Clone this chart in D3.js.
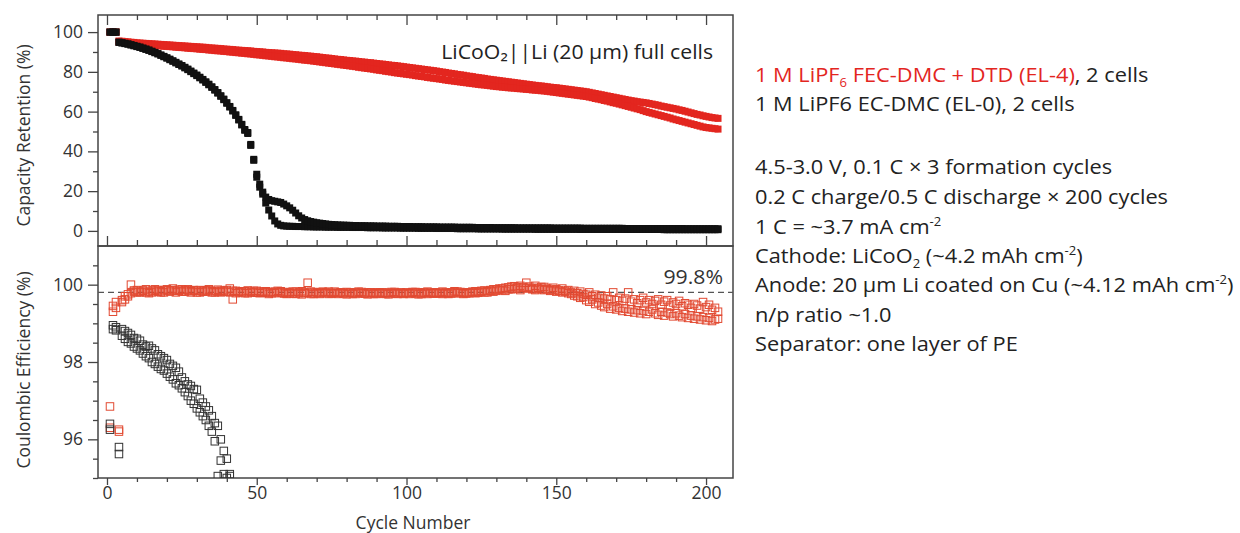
<!DOCTYPE html>
<html>
<head>
<meta charset="utf-8">
<script src="https://cdn.jsdelivr.net/npm/d3@7"></script>
<style>
  body { margin: 0; background: #fff; }
  text { font-family: "Open Sans", sans-serif; }
</style>
</head>
<body>
<script>
// cycle numbers (x)
var cycles = d3.range(1, 205);

// capacity retention (%), two cells per electrolyte
var capRedA = [100,100,100,95.5,95.4,95.2,95.1,94.9,94.8,94.6,
  94.5,94.4,94.3,94.2,94.1,94.0,93.9,93.8,93.7,93.6,
  93.5,93.4,93.3,93.2,93.1,93.0,92.9,92.8,92.7,92.6,
  92.5,92.4,92.3,92.1,92.0,91.9,91.8,91.7,91.5,91.4,
  91.3,91.2,91.0,90.9,90.8,90.7,90.6,90.5,90.3,90.2,
  90.1,90.0,89.8,89.7,89.6,89.5,89.4,89.3,89.1,89.0,
  88.9,88.7,88.6,88.4,88.3,88.2,88.0,87.9,87.7,87.6,
  87.4,87.2,87.0,86.9,86.7,86.5,86.3,86.2,86.0,85.8,
  85.7,85.5,85.4,85.2,85.0,84.9,84.7,84.6,84.4,84.2,
  84.0,83.9,83.7,83.5,83.3,83.2,83.0,82.8,82.6,82.4,
  82.2,82.0,81.8,81.6,81.4,81.2,81.0,80.8,80.6,80.4,
  80.1,79.9,79.7,79.4,79.2,79.0,78.7,78.5,78.3,78.0,
  77.8,77.6,77.3,77.1,76.9,76.7,76.4,76.2,76.0,75.8,
  75.6,75.4,75.2,75.0,74.8,74.6,74.4,74.2,74.0,73.8,
  73.6,73.4,73.2,73.0,72.9,72.7,72.5,72.3,72.1,72.0,
  71.8,71.6,71.4,71.2,71.0,70.8,70.6,70.4,70.2,70.0,
  69.7,69.4,69.1,68.8,68.5,68.2,67.9,67.6,67.3,67.0,
  66.7,66.4,66.1,65.8,65.5,65.3,65.0,64.8,64.6,64.4,
  64.1,63.8,63.5,63.2,62.8,62.5,62.2,61.9,61.6,61.3,
  60.9,60.6,60.2,59.8,59.4,59.0,58.6,58.3,57.9,57.6,
  57.3,57.0,56.8,56.6];
var capRedB = [100,100,100,95.0,94.9,94.7,94.6,94.4,94.2,94.0,
  93.9,93.8,93.7,93.6,93.4,93.3,93.2,93.0,92.9,92.8,
  92.7,92.6,92.4,92.3,92.2,92.1,91.9,91.8,91.7,91.6,
  91.4,91.3,91.2,91.0,90.9,90.7,90.6,90.5,90.3,90.2,
  90.0,89.9,89.7,89.6,89.4,89.3,89.1,89.0,88.8,88.6,
  88.5,88.3,88.1,88.0,87.8,87.6,87.5,87.3,87.1,87.0,
  86.8,86.6,86.5,86.3,86.1,85.9,85.8,85.6,85.4,85.2,
  85.0,84.8,84.6,84.4,84.2,84.0,83.8,83.6,83.4,83.2,
  83.0,82.8,82.6,82.3,82.1,81.9,81.7,81.5,81.3,81.0,
  80.8,80.6,80.3,80.1,79.9,79.6,79.4,79.2,79.0,78.8,
  78.6,78.4,78.1,77.9,77.7,77.5,77.2,77.0,76.8,76.6,
  76.4,76.2,75.9,75.7,75.5,75.3,75.1,74.9,74.7,74.5,
  74.3,74.1,73.9,73.7,73.5,73.4,73.2,73.0,72.8,72.6,
  72.5,72.3,72.2,72.0,71.9,71.8,71.6,71.5,71.4,71.2,
  71.1,70.9,70.8,70.7,70.5,70.4,70.2,70.0,69.8,69.6,
  69.4,69.2,69.0,68.8,68.6,68.4,68.2,68.0,67.8,67.6,
  67.3,67.0,66.6,66.3,66.0,65.6,65.3,64.9,64.5,64.2,
  63.8,63.4,63.0,62.6,62.2,61.8,61.4,61.0,60.5,60.0,
  59.6,59.2,58.8,58.4,58.0,57.6,57.2,56.8,56.3,55.9,
  55.5,55.1,54.7,54.3,53.9,53.5,53.1,52.7,52.3,52.0,
  51.8,51.6,51.4,51.2];
var capBlackA = [100,100,100,95.0,94.7,94.4,94.1,93.7,93.3,92.9,
  92.5,92.0,91.5,91.0,90.4,89.8,89.2,88.5,87.8,87.1,
  86.4,85.6,84.8,84.0,83.2,82.3,81.4,80.4,79.4,78.4,
  77.3,76.2,75.0,73.8,72.5,71.1,69.6,68.0,66.3,64.5,
  62.6,60.6,58.4,56.1,53.6,51.0,49.5,43.5,36.0,28.5,
  22.0,18.5,14.0,10.5,7.5,5.0,3.5,2.8,2.5,2.4,
  2.3,2.3,2.2,2.2,2.2,2.1,2.1,2.1,2.0,2.0,
  2.0,2.0,1.9,1.9,1.9,1.9,1.8,1.8,1.8,1.8,
  1.8,1.7,1.7,1.7,1.7,1.7,1.6,1.6,1.6,1.6,
  1.6,1.5,1.5,1.5,1.5,1.5,1.5,1.4,1.4,1.4,
  1.4,1.4,1.4,1.3,1.3,1.3,1.3,1.3,1.3,1.2,
  1.2,1.2,1.2,1.2,1.2,1.2,1.1,1.1,1.1,1.1,
  1.1,1.1,1.1,1.0,1.0,1.0,1.0,1.0,1.0,1.0,
  1.0,0.9,0.9,0.9,0.9,0.9,0.9,0.9,0.9,0.9,
  0.9,0.9,0.8,0.8,0.8,0.8,0.8,0.8,0.8,0.8,
  0.8,0.8,0.8,0.8,0.8,0.8,0.8,0.7,0.7,0.7,
  0.7,0.7,0.7,0.7,0.7,0.7,0.7,0.7,0.7,0.7,
  0.7,0.7,0.7,0.7,0.7,0.7,0.7,0.7,0.7,0.7,
  0.7,0.7,0.7,0.7,0.7,0.6,0.6,0.6,0.6,0.6,
  0.6,0.6,0.6,0.6,0.6,0.6,0.6,0.6,0.6,0.6,
  0.6,0.6,0.6,0.6];
var capBlackB = [100,100,100,94.8,94.5,94.2,93.9,93.5,93.1,92.7,
  92.3,91.8,91.3,90.8,90.2,89.6,89.0,88.3,87.6,86.9,
  86.1,85.3,84.5,83.7,82.9,82.0,81.1,80.1,79.1,78.1,
  77.0,75.9,74.7,73.5,72.2,70.8,69.3,67.7,66.0,64.2,
  62.3,60.3,58.1,55.8,53.3,50.6,49.0,43.0,35.5,27.0,
  23.5,19.5,17.0,15.8,15.2,14.9,14.6,14.3,13.5,12.6,
  11.6,10.4,9.0,7.6,6.5,5.7,5.1,4.7,4.4,4.1,
  3.9,3.7,3.5,3.3,3.2,3.1,3.0,2.9,2.9,2.8,
  2.8,2.7,2.7,2.6,2.6,2.6,2.5,2.5,2.5,2.4,
  2.4,2.4,2.4,2.3,2.3,2.3,2.3,2.2,2.2,2.2,
  2.2,2.1,2.1,2.1,2.1,2.0,2.0,2.0,2.0,2.0,
  1.9,1.9,1.9,1.9,1.9,1.9,1.8,1.8,1.8,1.8,
  1.8,1.8,1.7,1.7,1.7,1.7,1.7,1.7,1.6,1.6,
  1.6,1.6,1.6,1.6,1.6,1.6,1.5,1.5,1.5,1.5,
  1.5,1.5,1.5,1.5,1.5,1.5,1.5,1.5,1.4,1.4,
  1.4,1.4,1.4,1.4,1.4,1.4,1.4,1.4,1.3,1.3,
  1.3,1.3,1.3,1.3,1.3,1.3,1.3,1.3,1.3,1.3,
  1.3,1.3,1.2,1.2,1.2,1.2,1.2,1.2,1.2,1.2,
  1.2,1.2,1.2,1.2,1.2,1.2,1.2,1.2,1.2,1.2,
  1.2,1.2,1.1,1.1,1.1,1.1,1.1,1.1,1.1,1.1,
  1.1,1.1,1.1,1.1];

// coulombic efficiency (%)
var ceRedA = [96.85,99.45,99.55,96.25,99.6,99.7,99.75,100.0,99.85,99.8,
  99.82,99.85,99.8,99.78,99.85,99.88,99.82,99.8,99.86,99.88,
  99.85,99.9,99.84,99.87,99.82,99.86,99.88,99.83,99.85,99.8,
  99.86,99.82,99.85,99.88,99.83,99.8,99.87,99.84,99.82,99.86,
  99.9,99.62,99.84,99.8,99.83,99.78,99.85,99.82,99.8,99.84,
  99.82,99.79,99.83,99.8,99.78,99.82,99.84,99.8,99.77,99.81,
  99.78,99.82,99.76,99.8,99.83,99.78,100.05,99.82,99.76,99.8,
  99.78,99.82,99.8,99.76,99.79,99.82,99.78,99.8,99.77,99.81,
  99.79,99.76,99.8,99.82,99.78,99.77,99.8,99.79,99.76,99.8,
  99.78,99.8,99.76,99.79,99.81,99.77,99.78,99.8,99.76,99.79,
  99.78,99.81,99.77,99.8,99.76,99.79,99.82,99.78,99.8,99.77,
  99.79,99.82,99.78,99.76,99.8,99.83,99.78,99.81,99.79,99.77,
  99.8,99.82,99.78,99.81,99.84,99.8,99.83,99.86,99.82,99.88,
  99.9,99.86,99.92,99.88,99.95,99.9,99.93,99.97,99.92,100.05,
  99.95,99.9,99.97,99.92,99.88,99.94,99.9,99.86,99.92,99.88,
  99.85,99.9,99.82,99.86,99.8,99.84,99.78,99.82,99.76,99.74,
  99.8,99.7,99.74,99.66,99.72,99.64,99.7,99.62,99.8,99.6,
  99.66,99.58,99.64,99.8,99.56,99.62,99.52,99.6,99.66,99.54,
  99.6,99.5,99.58,99.62,99.48,99.56,99.6,99.46,99.54,99.5,
  99.58,99.44,99.52,99.48,99.4,99.5,99.46,99.38,99.55,99.42,
  99.48,99.35,99.4,99.3];
var ceRedB = [96.3,99.3,99.4,96.2,99.55,99.62,99.7,99.78,99.82,99.86,
  99.8,99.84,99.88,99.82,99.8,99.84,99.86,99.83,99.8,99.85,
  99.82,99.86,99.8,99.84,99.88,99.82,99.85,99.8,99.86,99.84,
  99.8,99.85,99.82,99.86,99.8,99.84,99.82,99.8,99.85,99.82,
  99.8,99.84,99.78,99.82,99.8,99.83,99.78,99.8,99.84,99.79,
  99.78,99.82,99.8,99.76,99.81,99.78,99.8,99.83,99.79,99.76,
  99.8,99.77,99.82,99.78,99.75,99.8,99.79,99.76,99.81,99.78,
  99.76,99.8,99.78,99.82,99.77,99.79,99.76,99.8,99.78,99.75,
  99.8,99.78,99.76,99.79,99.81,99.77,99.75,99.8,99.78,99.76,
  99.8,99.77,99.79,99.75,99.78,99.81,99.76,99.79,99.77,99.8,
  99.76,99.79,99.81,99.75,99.78,99.8,99.76,99.79,99.77,99.8,
  99.78,99.76,99.8,99.79,99.77,99.8,99.82,99.78,99.76,99.8,
  99.78,99.8,99.83,99.79,99.82,99.85,99.8,99.84,99.88,99.84,
  99.86,99.9,99.84,99.93,99.88,99.96,99.9,99.86,99.94,99.9,
  99.92,99.88,99.86,99.9,99.94,99.86,99.88,99.84,99.86,99.82,
  99.84,99.8,99.84,99.78,99.76,99.72,99.7,99.66,99.68,99.6,
  99.56,99.62,99.5,99.54,99.46,99.42,99.5,99.38,99.44,99.36,
  99.4,99.32,99.38,99.3,99.36,99.28,99.34,99.26,99.32,99.24,
  99.3,99.36,99.26,99.22,99.3,99.2,99.28,99.24,99.18,99.26,
  99.2,99.16,99.24,99.14,99.2,99.12,99.18,99.1,99.16,99.08,
  99.14,99.06,99.1,99.12];
var ceBlackA = [96.4,98.95,98.9,95.8,98.85,98.8,98.75,98.7,98.62,98.6,
  98.55,98.45,98.4,98.42,98.35,98.3,98.2,98.15,98.1,98.05,
  97.95,97.9,97.85,97.75,97.6,97.5,97.42,97.38,97.3,97.28,
  97.05,96.95,96.85,96.75,96.6,96.42,96.35,96.0,95.7,95.5,95.1];
var ceBlackB = [96.25,98.85,98.82,95.62,98.68,98.6,98.52,98.48,98.4,98.35,
  98.3,98.22,98.15,98.1,98.0,97.95,97.88,97.82,97.78,97.7,
  97.62,97.55,97.45,97.4,97.32,97.22,97.12,97.0,96.92,96.8,
  96.7,96.6,96.5,96.35,96.2,95.95,95.05,95.45,95.1,95.0,95.05];

var ceReference = 99.8;

var xMajor = [0, 50, 100, 150, 200];
var xMinor = [10,20,30,40,60,70,80,90,110,120,130,140,160,170,180,190];
var capMajor = [0, 20, 40, 60, 80, 100];
var capMinor = [10, 30, 50, 70, 90];
var ceMajor = [96, 98, 100];
var ceMinor = [95, 95.5, 96.5, 97, 97.5, 98.5, 99, 99.5, 100.5];

var red = "#e3261f";
var redOpen = "#e24a32";
var ink = "#222";

var svg = d3.select("body").append("svg")
    .attr("width", 1240)
    .attr("height", 533);

var left = 98, right = 733, top1 = 15, mid = 246, bottom = 478;
var stretch = 1.09; // the source lettering is wider than Open Sans

var x = d3.scaleLinear().domain([-3, 209]).range([left, right]);
var yCap = d3.scaleLinear().domain([-7.6, 108.6]).range([mid, top1]);
var yCE = d3.scaleLinear().domain([95, 101]).range([bottom, mid]);

var defs = svg.append("defs");
defs.append("clipPath").attr("id", "clipTop").append("rect")
    .attr("x", left).attr("y", top1).attr("width", right - left).attr("height", mid - top1);
defs.append("clipPath").attr("id", "clipBot").append("rect")
    .attr("x", left).attr("y", mid).attr("width", right - left).attr("height", bottom - mid);

function addAxis(gen, tx, ty) {
  var g = svg.append("g").attr("transform", "translate(" + tx + "," + ty + ")").call(gen);
  g.select(".domain").remove();
  g.selectAll("line").attr("stroke", "#444").attr("stroke-width", 1.3);
  g.selectAll("text").attr("font-size", 17.5).attr("fill", "#333")
    .attr("font-family", "'Open Sans', sans-serif");
  return g;
}

var fmt = d3.format("d");

// top panel: capacity retention axes
addAxis(d3.axisLeft(yCap).tickValues(capMajor).tickSize(10).tickPadding(5).tickFormat(fmt), left, 0);
addAxis(d3.axisLeft(yCap).tickValues(capMinor).tickSize(5).tickFormat(""), left, 0);
addAxis(d3.axisBottom(x).tickValues(xMajor).tickSize(10).tickFormat(""), 0, top1);
addAxis(d3.axisBottom(x).tickValues(xMinor).tickSize(5).tickFormat(""), 0, top1);
addAxis(d3.axisTop(x).tickValues(xMajor).tickSize(10).tickFormat(""), 0, mid);
addAxis(d3.axisTop(x).tickValues(xMinor).tickSize(6).tickFormat(""), 0, mid);

// bottom panel: coulombic efficiency axes
addAxis(d3.axisLeft(yCE).tickValues(ceMajor).tickSize(10).tickPadding(5).tickFormat(fmt), left, 0);
addAxis(d3.axisLeft(yCE).tickValues(ceMinor).tickSize(5).tickFormat(""), left, 0);
addAxis(d3.axisBottom(x).tickValues(xMajor).tickSize(7).tickPadding(2).tickFormat(fmt), 0, bottom);
addAxis(d3.axisBottom(x).tickValues(xMinor).tickSize(4).tickFormat(""), 0, bottom);

// frames
svg.append("rect").attr("x", left).attr("y", top1).attr("width", right - left).attr("height", mid - top1)
    .attr("fill", "none").attr("stroke", "#444").attr("stroke-width", 1.5);
svg.append("rect").attr("x", left).attr("y", mid).attr("width", right - left).attr("height", bottom - mid)
    .attr("fill", "none").attr("stroke", "#444").attr("stroke-width", 1.5);

function pairs(vals) {
  return vals.map(function(v, i) { return [cycles[i], v]; });
}

// top panel markers
var gTop = svg.append("g").attr("clip-path", "url(#clipTop)");
function filledSquares(vals, color) {
  var s = 7;
  gTop.append("g").selectAll("rect").data(pairs(vals)).enter().append("rect")
      .attr("x", function(d) { return x(d[0]) - s / 2; })
      .attr("y", function(d) { return yCap(d[1]) - s / 2; })
      .attr("width", s).attr("height", s)
      .attr("fill", color);
}
filledSquares(capRedA, red);
filledSquares(capRedB, red);
filledSquares(capBlackA, "#111");
filledSquares(capBlackB, "#111");

// bottom panel markers
var gBot = svg.append("g").attr("clip-path", "url(#clipBot)");
gBot.append("line")
    .attr("x1", left).attr("x2", right)
    .attr("y1", yCE(ceReference)).attr("y2", yCE(ceReference))
    .attr("stroke", "#555").attr("stroke-width", 1.4).attr("stroke-dasharray", "6,4");
function openSquares(vals, color) {
  var s = 7.5;
  gBot.append("g").selectAll("rect").data(pairs(vals)).enter().append("rect")
      .attr("x", function(d) { return x(d[0]) - s / 2; })
      .attr("y", function(d) { return yCE(d[1]) - s / 2; })
      .attr("width", s).attr("height", s)
      .attr("fill", "none")
      .attr("stroke", color).attr("stroke-width", 1);
}
openSquares(ceRedA, redOpen);
openSquares(ceRedB, redOpen);
openSquares(ceBlackA, "#333");
openSquares(ceBlackB, "#333");

// axis titles
svg.append("text")
    .attr("transform", "translate(30," + ((top1 + mid) / 2 + 5) + ") rotate(-90)")
    .attr("text-anchor", "middle").attr("font-size", 17.5).attr("fill", "#333")
    .text("Capacity Retention (%)");
svg.append("text")
    .attr("transform", "translate(30," + ((mid + bottom) / 2 + 8) + ") rotate(-90)")
    .attr("text-anchor", "middle").attr("font-size", 17.5).attr("fill", "#333")
    .text("Coulombic Efficiency (%)");
svg.append("text")
    .attr("x", 413).attr("y", 529)
    .attr("text-anchor", "middle").attr("font-size", 17.5).attr("fill", "#333")
    .text("Cycle Number");

// in-plot labels
function wideText(tx, ty, anchor, size) {
  return svg.append("text")
      .attr("transform", "translate(" + tx + "," + ty + ") scale(" + stretch + ",1)")
      .attr("text-anchor", anchor).attr("font-size", size);
}
wideText(713, 59, "end", 19.5).attr("fill", ink)
    .text("LiCoO₂||Li (20 µm) full cells");
wideText(723, 284, "end", 19.5).attr("fill", "#333")
    .text(ceReference + "%");

// notes on the right
var noteLines = [
  [["1 M LiPF", red], ["6", red, "sub"], [" FEC-DMC + DTD (EL-4)", red], [", 2 cells", ink]],
  [["1 M LiPF6 EC-DMC (EL-0), 2 cells", ink]],
  [["4.5-3.0 V, 0.1 C × 3 formation cycles", ink]],
  [["0.2 C charge/0.5 C discharge × 200 cycles", ink]],
  [["1 C = ~3.7 mA cm", ink], ["-2", ink, "sup"]],
  [["Cathode: LiCoO", ink], ["2", ink, "sub"], [" (~4.2 mAh cm", ink], ["-2", ink, "sup"], [")", ink]],
  [["Anode: 20 µm Li coated on Cu (~4.12 mAh cm", ink], ["-2", ink, "sup"], [")", ink]],
  [["n/p ratio ~1.0", ink]],
  [["Separator: one layer of PE", ink]]
];
var noteY = [82, 111, 174, 204, 234, 263, 292, 322, 351];

noteLines.forEach(function(line, i) {
  var t = wideText(755, noteY[i], "start", 20);
  var shift = 0;
  line.forEach(function(seg) {
    var want = seg[2] === "sub" ? 5 : seg[2] === "sup" ? -8 : 0;
    var ts = t.append("tspan").attr("fill", seg[1]).attr("dy", want - shift).text(seg[0]);
    if (seg[2]) ts.attr("font-size", 12);
    shift = want;
  });
});
</script>
</body>
</html>
